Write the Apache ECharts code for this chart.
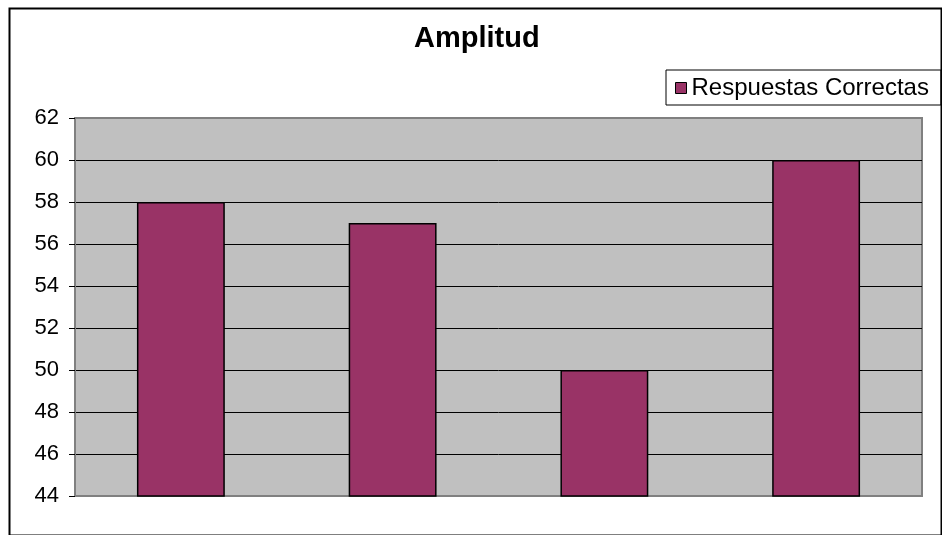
<!DOCTYPE html>
<html>
<head>
<meta charset="utf-8">
<style>
  html, body { margin: 0; padding: 0; background: #ffffff; }
  #chart { width: 942px; height: 535px; }
</style>
<script src="https://cdn.jsdelivr.net/npm/echarts@6/dist/echarts.min.js"></script>
</head>
<body>
<div id="chart"></div>
<script>
// Chart data
const titleText = 'Amplitud';
const seriesName = 'Respuestas Correctas';
const categories = ['1', '2', '3', '4'];
const respuestasCorrectas = [58, 57, 50, 60];
const yMin = 44;
const yMax = 62;
const yStep = 2;

const FONT = '"Liberation Sans", Arial, sans-serif';

const chart = echarts.init(document.getElementById('chart'), null, { renderer: 'canvas' });

chart.setOption({
  animation: false,
  backgroundColor: '#ffffff',
  title: {
    text: titleText,
    left: 414,
    top: 24,
    padding: 0,
    textStyle: { fontFamily: FONT, fontSize: 29, fontWeight: 'bold', color: '#000000' }
  },
  legend: {
    data: [seriesName],
    left: 666,
    top: 70,
    padding: [6, 12, 5, 9],
    itemGap: 6,
    itemWidth: 11,
    itemHeight: 11,
    icon: 'rect',
    borderColor: '#000000',
    borderWidth: 1,
    backgroundColor: '#ffffff',
    textStyle: { fontFamily: FONT, fontSize: 24, color: '#000000' },
    itemStyle: { borderColor: '#000000', borderWidth: 1 }
  },
  grid: {
    left: 75,
    right: 20,
    top: 118,
    bottom: 39,
    show: true,
    backgroundColor: '#c0c0c0',
    borderColor: '#808080',
    borderWidth: 2
  },
  xAxis: {
    type: 'category',
    data: categories,
    axisLine: { show: true, lineStyle: { color: '#808080', width: 2 } },
    axisTick: { show: false },
    axisLabel: { show: false },
    splitLine: { show: false }
  },
  yAxis: {
    type: 'value',
    min: yMin,
    max: yMax,
    interval: yStep,
    axisLine: { show: true, lineStyle: { color: '#808080', width: 1 } },
    axisTick: { show: true, length: 6, lineStyle: { color: '#000000', width: 1 } },
    axisLabel: { fontFamily: FONT, fontSize: 22, color: '#000000', margin: 16 },
    splitLine: {
      show: true,
      showMinLine: false,
      showMaxLine: false,
      lineStyle: { color: '#000000', width: 1 }
    }
  },
  series: [{
    name: seriesName,
    type: 'bar',
    data: respuestasCorrectas,
    barWidth: '41.5%',
    itemStyle: { color: '#993366', borderColor: '#000000', borderWidth: 1.5 }
  }],
  graphic: [{
    type: 'rect',
    left: 7,
    top: 6,
    shape: { width: 932, height: 527 },
    style: { fill: 'none', stroke: '#000000', lineWidth: 2 },
    silent: true,
    z: 100
  }]
});
</script>
</body>
</html>
